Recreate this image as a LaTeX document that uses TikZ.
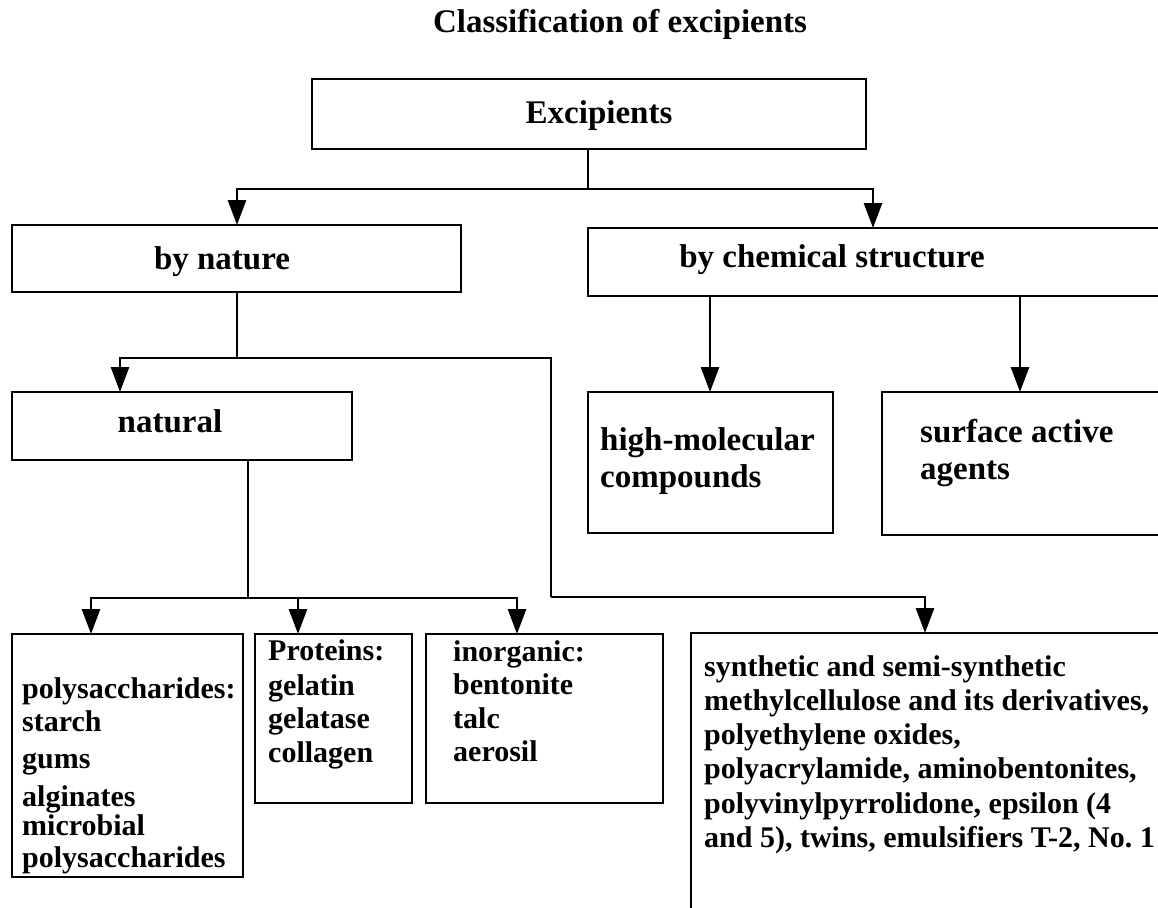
\documentclass[tikz,border=0pt]{standalone}
\usepackage{fontspec}
\setmainfont{Liberation Serif}
\usetikzlibrary{arrows.meta}
\begin{document}
\begin{tikzpicture}[x=1pt,y=-1pt,
  box/.style={draw, line width=2.8pt},
  lbl/.style={inner sep=0pt, font=\fontsize{33}{37}\selectfont\bfseries},
  txt/.style={inner sep=0pt, anchor=north west, align=left,
              font=\fontsize{30}{33.5}\selectfont\bfseries},
  arr/.style={line width=2.8pt, -{Triangle[length=25pt,width=18pt]}},
  ln/.style={line width=2.8pt}]
\useasboundingbox (0,0) rectangle (1158,907);

% title
\node[lbl] (title) at (620,24) {Classification of excipients};

% boxes and their labels
\draw[box] (312,79) rectangle (866,149);
\node[lbl] (exc) at (599,116) {Excipients};
\coordinate (excb) at (588,149);

\draw[box] (12,225) rectangle (461,292);
\node[lbl] (bynat) at (222,262) {by nature};

\draw[box] (588,228) rectangle (1200,296);
\node[lbl] (bychem) at (832,260) {by chemical structure};

\draw[box] (12,392) rectangle (352,460);
\node[lbl] (natural) at (170,421) {natural};

\draw[box] (588,392) rectangle (833,533);
\node[txt, font=\fontsize{33}{37}\selectfont\bfseries] (hmc) at (600,427) {high-molecular\\compounds};

\draw[box] (882,392) rectangle (1200,535);
\node[txt, font=\fontsize{33}{37}\selectfont\bfseries] (saa) at (920,419) {surface active\\agents};

\draw[box] (12,634) rectangle (243,877);
\node[txt] (poly) at (22,677) {polysaccharides:\\[-0.5pt]starch\\[3.5pt]gums\\[4.5pt]alginates\\[-4.5pt]microbial\\[-1pt]polysaccharides};

\draw[box] (255,634) rectangle (412,803);
\node[txt] (prot) at (268,639) {Proteins:\\[1.5pt]gelatin\\gelatase\\collagen};

\draw[box] (426,634) rectangle (663,803);
\node[txt] (inorg) at (453,640) {inorganic:\\bentonite\\talc\\aerosil};

\draw[box] (691,633) rectangle (1200,960);
\node[txt, font=\fontsize{30}{34.3}\selectfont\bfseries] (syn) at (704,655)
  {synthetic and semi-synthetic\\methylcellulose and its derivatives,\\polyethylene oxides,\\polyacrylamide, aminobentonites,\\polyvinylpyrrolidone, epsilon (4\\and 5), twins, emulsifiers T-2, No.~1};

% junctions and entry points
\coordinate (j1) at (588,189);
\coordinate (natin) at (237,225);
\coordinate (chemin) at (873,228);
\coordinate (natb) at (237,292);
\coordinate (j2) at (237,358);
\coordinate (naturalin) at (120,392);
\coordinate (j3) at (551,358);
\coordinate (j4) at (551,597);
\coordinate (synin) at (925,633);
\coordinate (hmcout) at (710,296);
\coordinate (hmcin) at (710,392);
\coordinate (saaout) at (1020,296);
\coordinate (saain) at (1020,392);
\coordinate (naturalb) at (248,460);
\coordinate (j5) at (248,598);
\coordinate (polyin) at (91,634);
\coordinate (protin) at (298,634);
\coordinate (inorgin) at (517,634);

% connectors
\draw[ln] (excb) -- (j1);
\draw[arr] (j1) -| (natin);
\draw[arr] (j1) -| (chemin);
\draw[ln] (natb) -- (j2);
\draw[arr] (j2) -| (naturalin);
\draw[ln] (j2) -- (j3) -- (j4);
\draw[arr] (j4) -| (synin);
\draw[arr] (hmcout) -- (hmcin);
\draw[arr] (saaout) -- (saain);
\draw[ln] (naturalb) -- (j5);
\draw[arr] (j5) -| (polyin);
\draw[arr] (j5) -| (inorgin);
\draw[arr] (protin |- j5) -- (protin);
\end{tikzpicture}
\end{document}
